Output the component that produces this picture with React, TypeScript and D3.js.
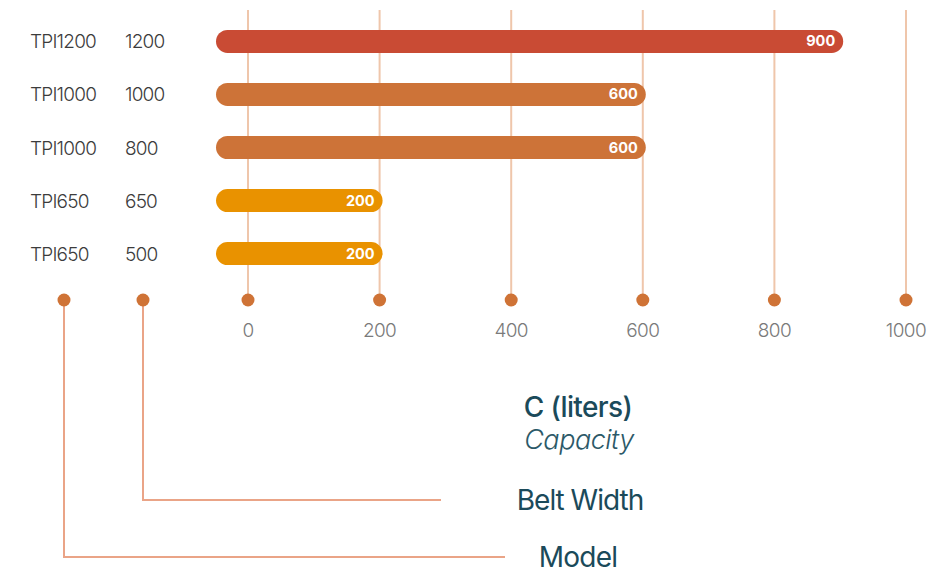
import React from "react";
import * as d3 from "d3";

const models = ["TPI1200", "TPI1000", "TPI1000", "TPI650", "TPI650"];
const beltWidths = ["1200", "1000", "800", "650", "500"];
const capacities = [900, 600, 600, 200, 200];
const barColors = ["#c94b34", "#cd7338", "#cd7338", "#e99200", "#e99200"];
const ticks = [0, 200, 400, 600, 800, 1000];

export default function App() {
  const W = 945, H = 574;
  const x = d3.scaleLinear().domain([0, 1000]).range([248, 906]);
  const y = d3.scaleBand<number>().domain(d3.range(capacities.length)).range([15, 280]).paddingInner(0.585).paddingOuter(0.29);
  const bh = 23;
  const axisY = 300;
  const font = "Inter, 'Liberation Sans', sans-serif";
  const barLeft = 216;
  const gridColor = "#efc6ab";
  const dotColor = "#cf7336";
  const leaderColor = "#eaa487";
  const textTeal = "#1b4a5a";
  return (
    <svg width={W} height={H} style={{ position: "absolute", left: 0, top: 0 }} fontFamily={font}>
      {ticks.map((t) => (
        <g key={t}>
          <line x1={x(t)} x2={x(t)} y1={10} y2={axisY} stroke={gridColor} strokeWidth={2} />
          <circle cx={x(t)} cy={axisY} r={6.5} fill={dotColor} />
          <text x={x(t)} y={337} textAnchor="middle" fontSize={19} fill="#7a7a7a" fontWeight={300} letterSpacing={-0.6}>{t}</text>
        </g>
      ))}
      {capacities.map((v, i) => {
        const cy = (y(i) as number) + y.bandwidth() / 2;
        const right = x(v) + 3;
        return (
          <g key={i}>
            <rect x={barLeft} y={cy - bh / 2} width={right - barLeft} height={bh} rx={bh / 2} fill={barColors[i]} />
            <text x={right - 8} y={cy + 5} textAnchor="end" fontSize={14.5} fontWeight={700} fill="#fff">{v}</text>
            <text x={30} y={cy + 7} fontSize={19} fontWeight={300} fill="#3c3c3c" letterSpacing={-0.8}>{models[i]}</text>
            <text x={125} y={cy + 7} fontSize={19} fontWeight={300} fill="#3c3c3c" letterSpacing={-0.8}>{beltWidths[i]}</text>
          </g>
        );
      })}
      <path d={`M64,${axisY} V557 H505`} fill="none" stroke={leaderColor} strokeWidth={2} />
      <path d={`M143,${axisY} V500 H441`} fill="none" stroke={leaderColor} strokeWidth={2} />
      <circle cx={64} cy={axisY} r={6.5} fill={dotColor} />
      <circle cx={143} cy={axisY} r={6.5} fill={dotColor} />
      <text x={578} y={417} textAnchor="middle" fontSize={28} fontWeight={500} fill={textTeal} letterSpacing={-0.6}>C (liters)</text>
      <text x={579} y={449} textAnchor="middle" fontSize={27} fontStyle="italic" fontWeight={300} fill="#2c5968" letterSpacing={-0.5}>Capacity</text>
      <text x={580} y={510} textAnchor="middle" fontSize={28} fontWeight={400} fill={textTeal} letterSpacing={-1}>Belt Width</text>
      <text x={578} y={567} textAnchor="middle" fontSize={28} fontWeight={400} fill={textTeal} letterSpacing={-0.8}>Model</text>
    </svg>
  );
}
